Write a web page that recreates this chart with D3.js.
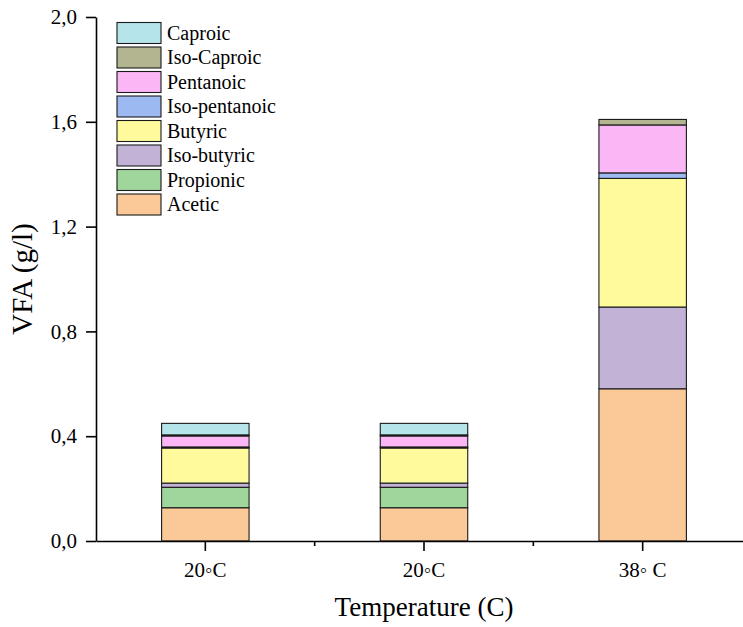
<!DOCTYPE html>
<html>
<head>
<meta charset="utf-8">
<script src="https://cdn.jsdelivr.net/npm/d3@7/dist/d3.min.js"></script>
<style>
  html, body { margin: 0; padding: 0; background: #fff; }
  svg { display: block; }
  svg text { font-family: "Liberation Serif", "Times New Roman", serif; fill: #000; }
</style>
</head>
<body>
<svg id="chart" width="743" height="627"></svg>
<script>
// Temperature groups on the x axis
const categories = ["20\u25E6C", "20\u25E6C ", "38\u25E6 C"];
const categoryLabels = ["20\u25E6C", "20\u25E6C", "38\u25E6 C"];

// VFA components (g/l), bottom to top of each stack
const acids = ["Acetic", "Propionic", "Iso-butyric", "Butyric", "Iso-pentanoic", "Pentanoic", "Iso-Caproic", "Caproic"];
const acetic       = [0.127, 0.127, 0.581];
const propionic    = [0.078, 0.078, 0.000];
const isoButyric   = [0.016, 0.016, 0.312];
const butyric      = [0.134, 0.134, 0.491];
const isoPentanoic = [0.004, 0.004, 0.021];
const pentanoic    = [0.042, 0.042, 0.183];
const isoCaproic   = [0.004, 0.004, 0.021];
const caproic      = [0.044, 0.044, 0.000];

const colors = ["#fbc898", "#9fd69b", "#c2b2d6", "#fffb9d", "#9db9f1", "#fbb6f6", "#b2b590", "#b5e4ea"];

const yTicks = [0, 0.4, 0.8, 1.2, 1.6, 2.0];

const seriesValues = [acetic, propionic, isoButyric, butyric, isoPentanoic, pentanoic, isoCaproic, caproic];
const rows = categories.map((c, i) => {
  const r = { cat: c };
  acids.forEach((a, k) => { r[a] = seriesValues[k][i]; });
  return r;
});

const svg = d3.select("#chart");
const x0 = 96, x1 = 752, yTop = 17, yBottom = 541;

const x = d3.scaleBand().domain(categories).range([x0, x1]).paddingInner(0).paddingOuter(0);
const y = d3.scaleLinear().domain([0, 2.0]).range([yBottom, yTop]);
const color = d3.scaleOrdinal().domain(acids).range(colors);

const stacked = d3.stack().keys(acids)(rows);
const barW = x.bandwidth() * 0.4;

// stacked bars
svg.append("g")
  .selectAll("g")
  .data(stacked)
  .join("g")
  .attr("fill", d => color(d.key))
  .selectAll("rect")
  .data(d => d)
  .join("rect")
  .attr("x", d => x(d.data.cat) + (x.bandwidth() - barW) / 2)
  .attr("width", barW)
  .attr("y", d => y(d[1]))
  .attr("height", d => y(d[0]) - y(d[1]))
  .attr("stroke", "#1a1a1a")
  .attr("stroke-width", 1.1);

// y axis
const yAxis = d3.axisLeft(y)
  .tickValues(yTicks)
  .tickFormat(d => d3.format(".1f")(d).replace(".", ","))
  .tickSizeInner(10)
  .tickSizeOuter(0);
const gy = svg.append("g").attr("transform", `translate(${x0},0)`).call(yAxis)
  .attr("font-family", null).attr("font-size", null);
gy.select(".domain").attr("stroke", "#000").attr("stroke-width", 1.6);
gy.selectAll(".tick line").attr("stroke", "#000").attr("stroke-width", 1.6);
gy.selectAll(".tick text")
  .attr("x", -19)
  .style("font-size", "21px");

// x axis with major ticks at categories and minor ticks at group boundaries
const xAxis = d3.axisBottom(x)
  .tickFormat((d, i) => categoryLabels[i])
  .tickSizeInner(10)
  .tickSizeOuter(0);
const gx = svg.append("g").attr("transform", `translate(0,${yBottom})`).call(xAxis)
  .attr("font-family", null).attr("font-size", null);
gx.select(".domain").attr("stroke", "#000").attr("stroke-width", 1.6);
gx.selectAll(".tick line").attr("stroke", "#000").attr("stroke-width", 1.6);
gx.selectAll(".tick text")
  .attr("y", 21)
  .attr("dy", "0.71em")
  .style("font-size", "21px");
gx.selectAll(".minor")
  .data(categories.slice(1))
  .join("line")
  .attr("class", "minor")
  .attr("x1", d => x(d)).attr("x2", d => x(d))
  .attr("y1", 0).attr("y2", 5)
  .attr("stroke", "#000").attr("stroke-width", 1.6);

// axis titles
svg.append("text")
  .attr("transform", `translate(32,${(yTop + yBottom) / 2}) rotate(-90)`)
  .attr("text-anchor", "middle")
  .style("font-size", "29px")
  .text("VFA (g/l)");

svg.append("text")
  .attr("x", 424)
  .attr("y", 616)
  .attr("text-anchor", "middle")
  .style("font-size", "27px")
  .text("Temperature (C)");

// legend, top entry first
const legendItems = acids.slice().reverse();
const lg = svg.append("g").attr("transform", "translate(117,22.5)");
const item = lg.selectAll("g")
  .data(legendItems)
  .join("g")
  .attr("transform", (d, i) => `translate(0,${i * 24.5})`);
item.append("rect")
  .attr("width", 44).attr("height", 21)
  .attr("fill", d => color(d))
  .attr("stroke", "#1a1a1a").attr("stroke-width", 1.1);
item.append("text")
  .attr("x", 50).attr("y", 17)
  .style("font-size", "20px")
  .text(d => d);
</script>
</body>
</html>
